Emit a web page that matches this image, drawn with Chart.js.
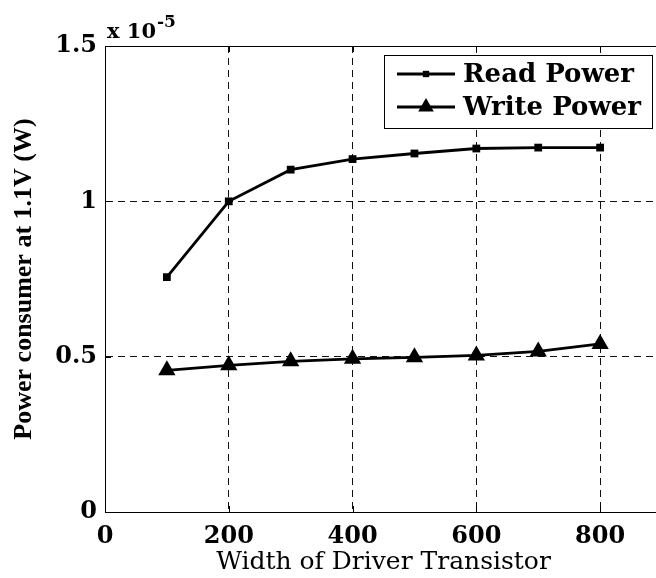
<!DOCTYPE html>
<html>
<head>
<meta charset="utf-8">
<script src="https://cdn.jsdelivr.net/npm/chart.js@4"></script>
<style>
  html, body { margin: 0; padding: 0; background: #fff; overflow: hidden; }
  #wrap { width: 680px; height: 578px; }
</style>
</head>
<body>
<div id="wrap"><canvas id="powerChart" width="680" height="578"></canvas></div>
<script>
// driver transistor widths
const widths = [100, 200, 300, 400, 500, 600, 700, 800];
// power at 1.1V, in units of 1e-5 W
const readPower = [0.756, 1.0, 1.102, 1.136, 1.154, 1.170, 1.173, 1.173];
const writePower = [0.456, 0.472, 0.485, 0.493, 0.498, 0.504, 0.517, 0.541];
const seriesNames = ['Read Power', 'Write Power'];
const xTicks = [0, 200, 400, 600, 800];
const yTicks = [0, 0.5, 1, 1.5];

const serif = '"DejaVu Serif", serif';

function toPoints(values) {
  return widths.map((w, i) => ({ x: w, y: values[i] }));
}

function drawMarker(ctx, style, x, y, r) {
  ctx.beginPath();
  if (style === 'rect') {
    const s = r * Math.SQRT1_2;
    ctx.rect(x - s, y - s, 2 * s, 2 * s);
  } else {
    ctx.moveTo(x, y - r);
    ctx.lineTo(x + r * 0.866, y + r / 2);
    ctx.lineTo(x - r * 0.866, y + r / 2);
    ctx.closePath();
  }
  ctx.fill();
}

// solid box round the plot with small inward ticks
const frame = {
  id: 'frame',
  beforeDatasetsDraw(chart) {
    const { ctx, chartArea: a, scales } = chart;
    ctx.save();
    ctx.strokeStyle = '#000';
    ctx.lineWidth = 1;
    ctx.setLineDash([]);
    ctx.strokeRect(a.left + 0.5, a.top + 0.5, a.right - a.left, a.bottom - a.top);
    ctx.beginPath();
    xTicks.forEach(v => {
      const px = Math.round(scales.x.getPixelForValue(v)) + 0.5;
      ctx.moveTo(px, a.bottom); ctx.lineTo(px, a.bottom - 6);
      ctx.moveTo(px, a.top); ctx.lineTo(px, a.top + 6);
    });
    yTicks.forEach(v => {
      const py = Math.round(scales.y.getPixelForValue(v)) + 0.5;
      ctx.moveTo(a.left, py); ctx.lineTo(a.left + 6, py);
      ctx.moveTo(a.right, py); ctx.lineTo(a.right - 6, py);
    });
    ctx.stroke();
    ctx.restore();
  }
};

// "x 10^-5" multiplier over the y axis
const exponent = {
  id: 'exponent',
  afterDraw(chart) {
    const ctx = chart.ctx;
    const x0 = chart.chartArea.left + 2;
    ctx.save();
    ctx.fillStyle = '#000';
    ctx.textBaseline = 'alphabetic';
    ctx.font = 'bold 21px ' + serif;
    ctx.fillText('x 10', x0, 38);
    const w = ctx.measureText('x 10').width;
    ctx.font = 'bold 17px ' + serif;
    ctx.fillText('-5', x0 + w + 1, 27);
    ctx.restore();
  }
};

// boxed legend in the upper right corner
const legendBox = {
  id: 'legendBox',
  afterDraw(chart) {
    const ctx = chart.ctx;
    const x = 384, y = 55, w = 268, h = 73;
    ctx.save();
    ctx.fillStyle = '#fff';
    ctx.fillRect(x, y, w, h);
    ctx.strokeStyle = '#000';
    ctx.lineWidth = 1;
    ctx.setLineDash([]);
    ctx.strokeRect(x + 0.5, y + 0.5, w, h);
    ctx.font = 'bold 26px ' + serif;
    ctx.textBaseline = 'middle';
    chart.data.datasets.forEach((ds, i) => {
      const cy = y + 19 + i * 33;
      ctx.strokeStyle = ds.borderColor;
      ctx.lineWidth = ds.borderWidth;
      ctx.beginPath();
      ctx.moveTo(x + 13, cy);
      ctx.lineTo(x + 71, cy);
      ctx.stroke();
      ctx.fillStyle = ds.pointBackgroundColor;
      drawMarker(ctx, ds.pointStyle, x + 42, cy, ds.pointStyle === 'rect' ? 4.5 : 9);
      ctx.fillStyle = '#000';
      ctx.fillText(ds.label, x + 79, cy + 1);
    });
    ctx.restore();
  }
};

new Chart(document.getElementById('powerChart').getContext('2d'), {
  type: 'line',
  data: {
    datasets: [
      {
        label: seriesNames[0],
        data: toPoints(readPower),
        borderColor: '#000',
        borderWidth: 2.8,
        pointStyle: 'rect',
        pointRadius: 5.5,
        pointBackgroundColor: '#000',
        pointBorderColor: '#000',
        pointBorderWidth: 0
      },
      {
        label: seriesNames[1],
        data: toPoints(writePower),
        borderColor: '#000',
        borderWidth: 2.8,
        pointStyle: 'triangle',
        pointRadius: 10,
        pointBackgroundColor: '#000',
        pointBorderColor: '#000',
        pointBorderWidth: 0
      }
    ]
  },
  options: {
    responsive: false,
    animation: false,
    devicePixelRatio: 1,
    layout: { padding: { top: 46, right: 18, bottom: 0, left: 0 } },
    plugins: { legend: { display: false }, tooltip: { enabled: false } },
    scales: {
      x: {
        type: 'linear',
        min: 0,
        max: 900,
        afterBuildTicks: s => { s.ticks = xTicks.map(v => ({ value: v })); },
        afterFit: s => { s.height = 66; },
        grid: { color: '#111', lineWidth: 1, drawTicks: false },
        border: { display: true, color: '#000', width: 1, dash: [7, 5] },
        ticks: { color: '#000', padding: 10, font: { family: serif, size: 24, weight: 'bold' } },
        title: {
          display: true,
          text: 'Width of Driver Transistor',
          color: '#000',
          padding: { top: 0, bottom: 1 },
          font: { family: serif, size: 25, lineHeight: 1.2 }
        }
      },
      y: {
        min: 0,
        max: 1.5,
        afterBuildTicks: s => { s.ticks = yTicks.map(v => ({ value: v })); },
        afterFit: s => { s.width = 105; },
        grid: { color: '#111', lineWidth: 1, drawTicks: false },
        border: { display: true, color: '#000', width: 1, dash: [7, 5] },
        ticks: {
          color: '#000',
          padding: 8,
          callback: v => String(v),
          font: { family: serif, size: 24, weight: 'bold' }
        },
        title: {
          display: true,
          text: 'Power consumer at 1.1V (W)',
          color: '#000',
          padding: { top: 9, bottom: 0 },
          font: { family: '"Liberation Serif", serif', size: 26, weight: 'bold', lineHeight: 1.2 }
        }
      }
    }
  },
  plugins: [frame, exponent, legendBox]
});
</script>
</body>
</html>
